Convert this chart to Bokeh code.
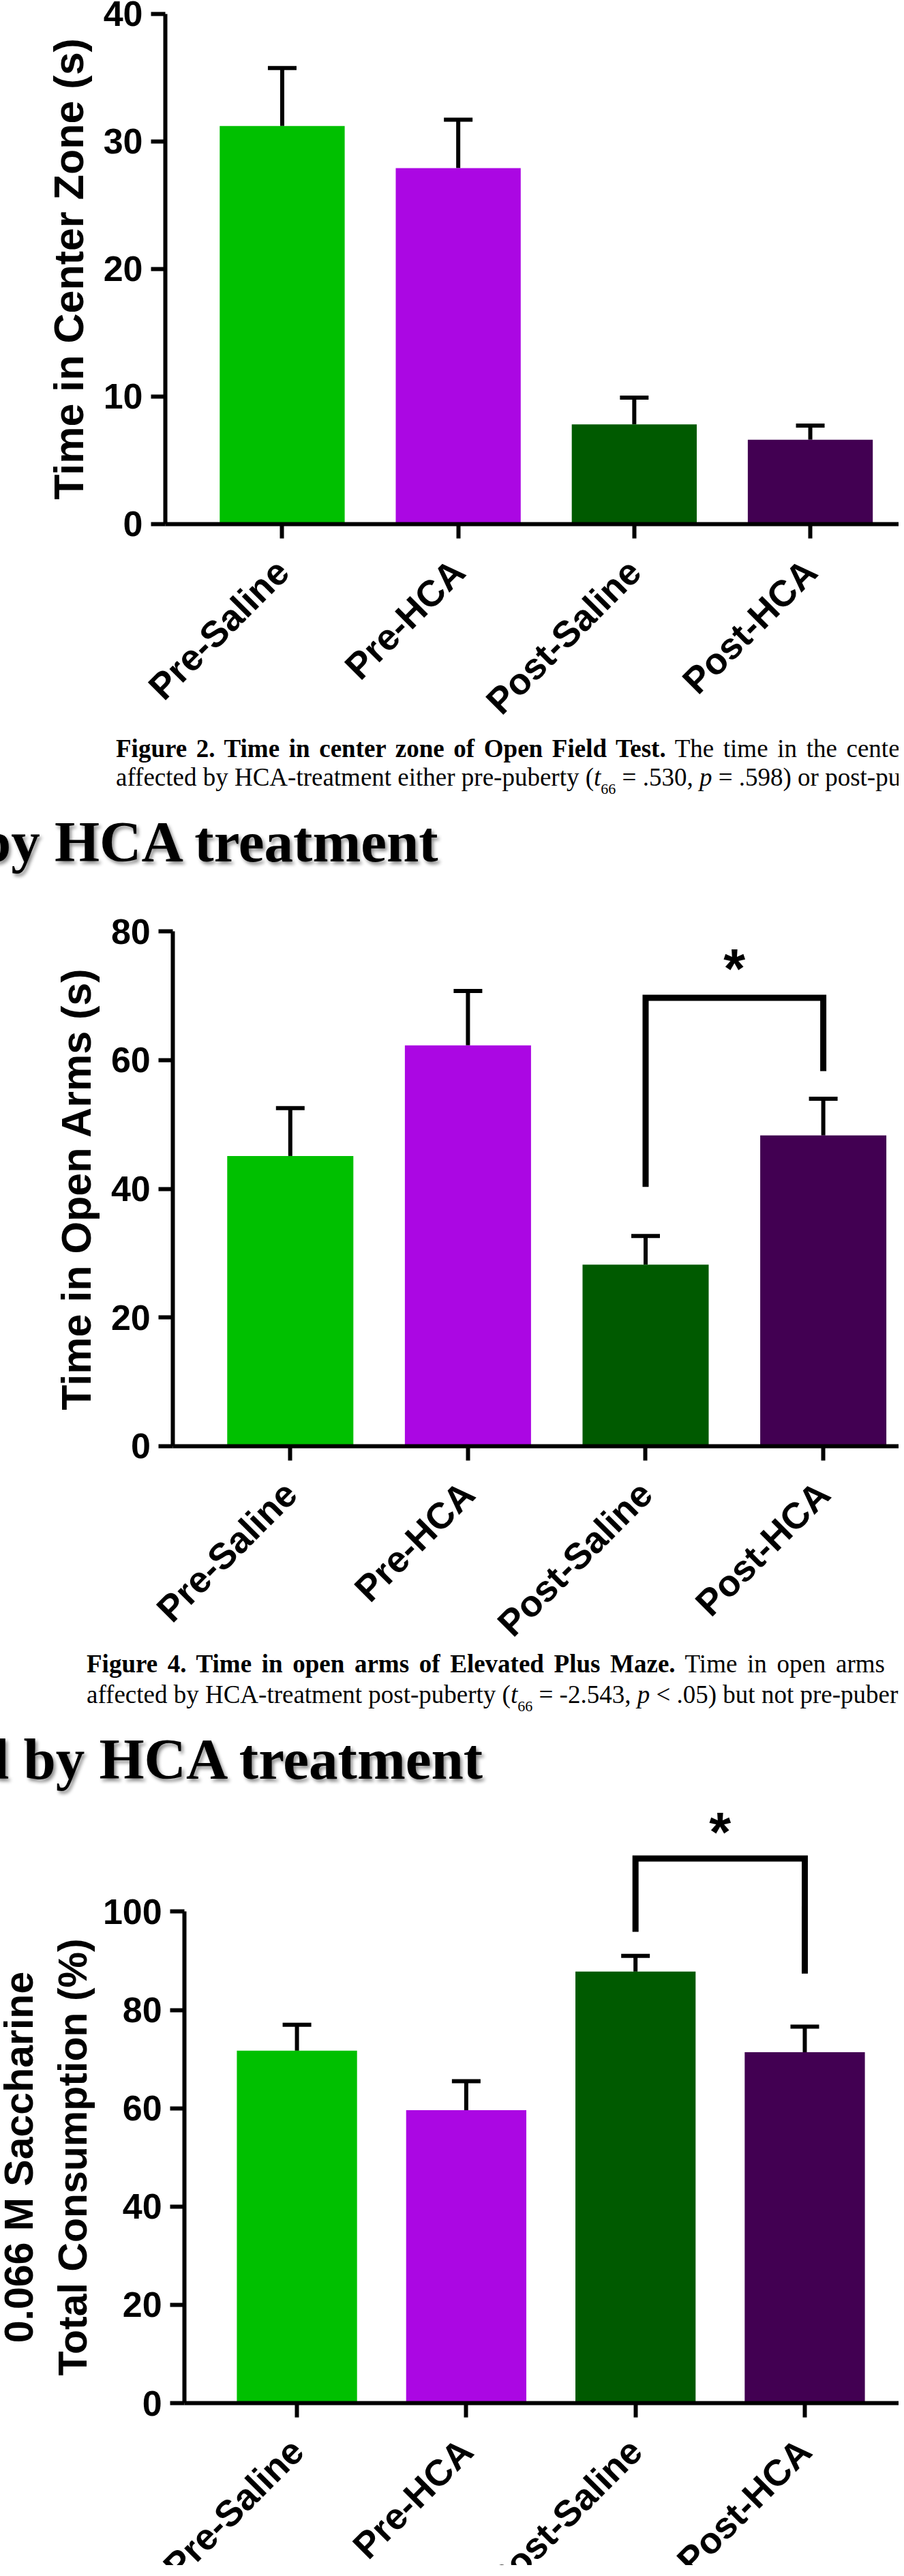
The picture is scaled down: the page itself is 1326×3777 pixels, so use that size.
import numpy as np
from bokeh.plotting import figure
from bokeh.models import Range1d, FixedTicker, ColumnDataSource, Whisker, TeeHead, Div
from bokeh.layouts import column
from bokeh.embed import file_html
from bokeh.resources import INLINE
from bokeh.core.properties import value

# ---------------- data ----------------
groups = ["Pre-Saline", "Pre-HCA", "Post-Saline", "Post-HCA"]
colors = ["#00C000", "#AB07E3", "#005A00", "#420052"]

center_mean = [31.2, 27.9, 7.8, 6.6]
center_sem = [4.55, 3.8, 2.1, 1.1]
center_ticks = [0, 10, 20, 30, 40]

open_mean = [45.1, 62.3, 28.2, 48.3]
open_sem = [7.45, 8.45, 4.45, 5.7]
open_ticks = [0, 20, 40, 60, 80]

sacc_mean = [71.7, 59.6, 87.8, 71.4]
sacc_sem = [5.3, 5.9, 3.2, 5.2]
sacc_ticks = [0, 20, 40, 60, 80, 100]

# significance brackets: compared groups, bracket height, leg ends, star height
open_sig = dict(a=2, b=3, top=69.7, left_end=40.3, right_end=58.3, star=76.4)
sacc_sig = dict(a=2, b=3, top=110.8, left_end=95.9, right_end=87.4, star=119.1)

FONT = "Liberation Sans"
W = 1318


def make_chart(means, sems, yticks, ylabel, label_size, label_standoff, height,
               axis_px, zero_px, unit_x_px, unit_y_px, axis_x=-0.664, sig=None):
    """axis_px / zero_px: canvas position of the y axis and of y = 0;
    unit_x_px / unit_y_px: pixels per data unit."""
    x0 = axis_x - axis_px / unit_x_px
    x1 = x0 + W / unit_x_px
    y0 = -(height - zero_px) / unit_y_px
    y1 = zero_px / unit_y_px

    xs = list(range(len(groups)))
    src = ColumnDataSource(dict(
        x=xs, mean=means, upper=[m + s for m, s in zip(means, sems)], color=colors))
    p = figure(width=W, height=height, title=None,
               x_range=Range1d(x0, x1), y_range=Range1d(y0, y1),
               output_backend="svg", toolbar_location=None,
               min_border=0, min_border_left=0, min_border_right=0,
               min_border_top=0, min_border_bottom=0)
    p.outline_line_color = None
    p.grid.visible = False
    p.background_fill_color = "white"
    p.border_fill_color = "white"

    p.vbar(x="x", top="mean", bottom=0, width=0.71, fill_color="color",
           line_color=None, source=src)
    p.add_layout(Whisker(base="x", lower="mean", upper="upper", source=src,
                         line_color="black", line_width=6,
                         upper_head=TeeHead(size=42, line_width=6, line_color="black"),
                         lower_head=None))

    if sig is not None:
        p.line(x=[sig["a"], sig["a"], sig["b"], sig["b"]],
               y=[sig["left_end"], sig["top"], sig["top"], sig["right_end"]],
               line_width=9, line_color="black", line_join="miter", line_cap="butt")
        p.text(x=[(sig["a"] + sig["b"]) / 2], y=[sig["star"]], text=["*"],
               text_align="center", text_baseline="middle", y_offset=20,
               text_font=value(FONT), text_font_style="bold",
               text_font_size="82px", text_color="black")

    for ax in (p.xaxis[0], p.yaxis[0]):
        ax.axis_line_width = 6
        ax.axis_line_color = "black"
        ax.major_tick_line_width = 6
        ax.major_tick_line_color = "black"
        ax.major_tick_out = 21
        ax.major_tick_in = 0
        ax.minor_tick_line_color = None
        ax.major_label_text_font = FONT
        ax.major_label_text_font_style = "bold"
        ax.major_label_text_color = "black"

    xa = p.xaxis[0]
    xa.fixed_location = 0
    xa.bounds = (axis_x, x1)
    xa.ticker = FixedTicker(ticks=xs)
    xa.major_label_overrides = {i: g for i, g in enumerate(groups)}
    xa.major_label_orientation = np.pi / 4
    xa.major_label_text_font_size = "54px"
    xa.major_label_standoff = 40

    ya = p.yaxis[0]
    ya.fixed_location = axis_x
    ya.ticker = FixedTicker(ticks=yticks)
    ya.bounds = (yticks[0], yticks[-1])
    ya.major_label_text_font_size = "52px"
    ya.major_label_standoff = 12
    ya.axis_label = ylabel
    ya.axis_label_text_font = FONT
    ya.axis_label_text_font_style = "bold"
    ya.axis_label_text_font_size = label_size
    ya.axis_label_text_color = "black"
    ya.axis_label_standoff = label_standoff
    return p


fig1 = make_chart(center_mean, center_sem, center_ticks, "Time in Center Zone (s)", "61px", 14,
                  1072, 242.0, 767.5, 258.2, 18.69)
fig2 = make_chart(open_mean, open_sem, open_ticks, "Time in Open Arms (s)", "61px", 14,
                  1120, 253.3, 827.7, 260.6, 9.43, axis_x=-0.660, sig=open_sig)
fig3 = make_chart(sacc_mean, sacc_sem, sacc_ticks, "0.066 M Saccharine\nTotal Consumption (%)", "59px", 8,
                  1124, 270.2, 886.0, 248.3, 7.206, sig=sacc_sig)

# ---------------- captions / headings ----------------
CAP = ("position:absolute;white-space:nowrap;font-family:'Liberation Serif';"
       "font-size:37px;line-height:37px;color:#000;")
HEAD = ("position:absolute;white-space:nowrap;font-family:'Liberation Serif';font-weight:bold;"
        "font-size:85px;line-height:85px;color:#000;text-shadow:3px 4px 5px rgba(0,0,0,0.45);")
SUB = "<span style='font-size:22px;position:relative;top:12px'>66</span>"


def band(height, left, top1, top2, wsp, line1, line2, head_top, head_right, heading):
    return Div(width=W, height=height, margin=0, text=(
        f"<div style=\"position:relative;width:{W}px;height:{height}px;overflow:hidden;background:white\">"
        f"<div style=\"{CAP}left:{left}px;top:{top1}px;word-spacing:{wsp}px\">{line1}</div>"
        f"<div style=\"{CAP}left:{left}px;top:{top2}px\">{line2}</div>"
        f"<div style=\"{HEAD}right:{head_right}px;top:{head_top}px\">{heading}</div>"
        "</div>"))


div1 = band(220, 170, 7, 49, 4.4,
            "<b>Figure 2. Time in center zone of Open Field Test.</b> The time in the center",
            f"affected by HCA-treatment either pre-puberty (<i>t</i>{SUB} = .530, <i>p</i> = .598) or post-puberty",
            119.8, 675.5, "by HCA treatment")
div2 = band(225, 127, 9, 54, 5.4,
            "<b>Figure 4. Time in open arms of Elevated Plus Maze.</b> Time in open arms",
            f"affected by HCA-treatment post-puberty (<i>t</i>{SUB} = -2.543, <i>p</i> &lt; .05) but not pre-puberty",
            124.8, 610, "d by HCA treatment")

layout = column(fig1, div1, fig2, div2, fig3, spacing=0)
open("out.html", "w").write(file_html(layout, INLINE))
